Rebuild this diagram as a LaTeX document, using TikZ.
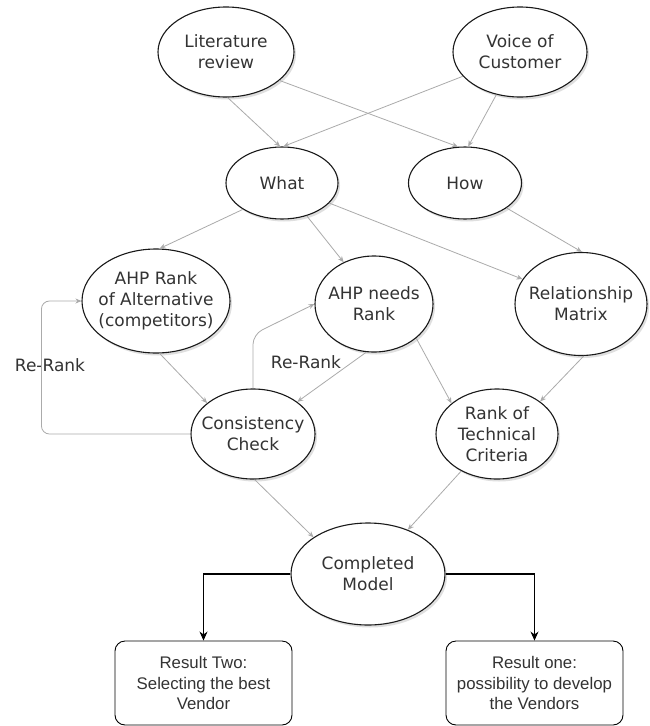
\documentclass[tikz,border=0pt]{standalone}
\usepackage{fontspec}
\setmainfont{DejaVu Sans}
\newfontfamily\boxfont{Liberation Sans}
\usetikzlibrary{shapes.geometric,arrows.meta,shadows,calc}
\definecolor{edgegray}{HTML}{ABABAB}
\definecolor{txt}{HTML}{333333}
\begin{document}
\begin{tikzpicture}[x=1pt,y=-1pt,
  oval/.style={ellipse, draw=black!90, line width=1.1pt, fill=white, inner sep=0pt,
    drop shadow={shadow xshift=2pt, shadow yshift=-2.5pt, opacity=0.25}},
  ovaltext/.style={align=center, text=txt, font=\fontsize{17}{21}\selectfont, inner sep=0pt},
  resbox/.style={draw=black, line width=0.9pt, rounded corners=10pt, fill=white,
    minimum width=177pt, minimum height=84pt, inner sep=0pt, align=center, text=txt,
    font=\boxfont\fontsize{16.8}{20.5}\selectfont},
  link/.style={draw=edgegray, line width=0.8pt, -{Stealth[length=6pt,width=5pt]}},
  mainlink/.style={draw=black, line width=1.1pt, -{Stealth[length=9pt,width=8pt]}},
  lbl/.style={text=txt, font=\fontsize{17}{21}\selectfont, inner sep=0pt}]
\useasboundingbox (0,0) rectangle (649,726);
\fill[white] (0,0) rectangle (649,726);

% nodes
\node[oval, minimum width=136pt, minimum height=90pt,
  label={[ovaltext]center:{Literature\\review}}] (lit) at (226,52) {};
\node[oval, minimum width=134pt, minimum height=90pt,
  label={[ovaltext]center:{Voice of\\Customer}}] (voc) at (520,52) {};
\node[oval, minimum width=112pt, minimum height=72pt,
  label={[ovaltext]center:{What}}] (what) at (282,183) {};
\node[oval, minimum width=113pt, minimum height=72pt,
  label={[ovaltext]center:{How}}] (how) at (465,183) {};
\node[oval, minimum width=148pt, minimum height=104pt,
  label={[ovaltext]center:{AHP Rank\\of Alternative\\(competitors)}}] (ahpr) at (156,301) {};
\node[oval, minimum width=118pt, minimum height=96pt,
  label={[ovaltext]center:{AHP needs\\Rank}}] (ahpn) at (374,304) {};
\node[oval, minimum width=132pt, minimum height=103pt,
  label={[ovaltext]center:{Relationship\\Matrix}}] (rel) at (581,304) {};
\node[oval, minimum width=124pt, minimum height=90pt,
  label={[ovaltext]center:{Consistency\\Check}}] (cc) at (253,434) {};
\node[oval, minimum width=122pt, minimum height=90pt,
  label={[ovaltext]center:{Rank of\\Technical\\Criteria}}] (rtc) at (497,434) {};
\node[oval, minimum width=154pt, minimum height=102pt,
  label={[ovaltext]center:{Completed\\Model}}] (cm) at (368,574) {};

\node[resbox] (r2) at (203.5,683) {Result Two:\\Selecting the best\\Vendor};
\node[resbox] (r1) at (534.5,683) {Result one:\\possibility to develop\\the Vendors};

\node[lbl] (rr1) at (50,365) {Re-Rank};
\node[lbl] (rr2) at (306,362) {Re-Rank};

% gray connectors
\draw[link] (lit.-88) -- (what.93);
\draw[link] (lit.-28) -- (how.101);
\draw[link] (voc.-157) -- (what.88);
\draw[link] (voc.-119) -- (how.85);
\draw[link] (what.-146) -- (ahpr.86);
\draw[link] (what.-53) -- (ahpn.126);
\draw[link] (what.-23) -- (rel.157);
\draw[link] (how.-31) -- (rel.89);
\draw[link] (ahpr.-86) -- (cc.146);
\draw[link] (ahpn.-99) -- (cc.36);
\draw[link] (ahpn.-39) -- (rtc.146);
\draw[link] (rel.-87) -- (rtc.37);
\draw[link] (cc.-88) -- (cm.146);
\draw[link] (rtc.-134) -- (cm.48);
\draw[link, rounded corners=10pt] (cc.north) -- ++(0,-54) -- (ahpn.west);
\draw[link, rounded corners=8pt] (cc.west) -- ++(-149,0) |- (ahpr.west);

% black connectors
\draw[mainlink] (cm.west) -| (r2.north);
\draw[mainlink] (cm.east) -| (r1.north);
\end{tikzpicture}
\end{document}
